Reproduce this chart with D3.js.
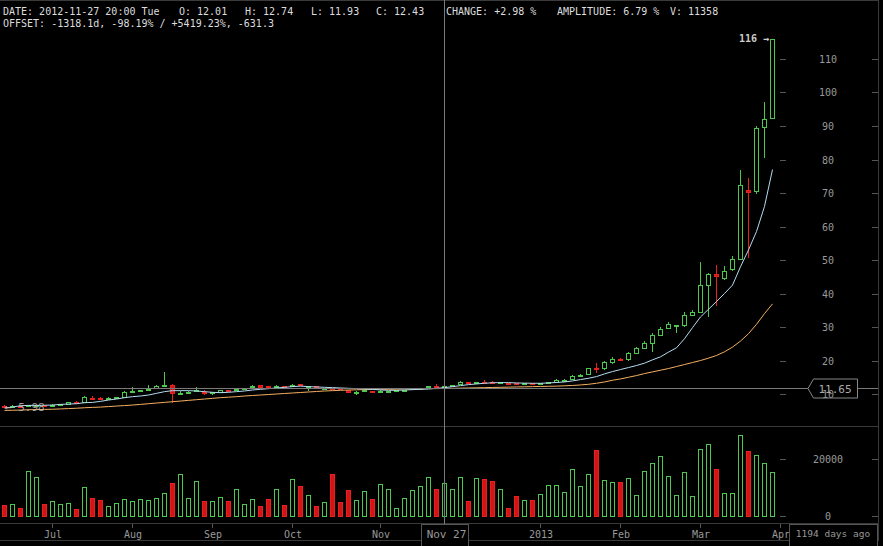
<!DOCTYPE html>
<html><head><meta charset="utf-8">
<script src="https://cdn.jsdelivr.net/npm/d3@7"></script>
<style>html,body{margin:0;padding:0;background:#000;overflow:hidden}</style>
</head><body><svg id="c" width="883" height="546"></svg>
<script>
// ---------- data (3-day candles, first candle 2012-06-15) ----------
const startDate = "2012-06-15";
const stepDays = 3;
const open = [6.5,6.4,6.5,6.5,6.6,6.7,6.6,6.8,7.1,7.7,
 7.7,8.95,8.8,8.85,8.95,9.2,10.85,11.05,11.45,11.7,
 12.55,12.7,10.25,10.45,10.95,10.55,10.4,10.7,11.15,11.35,
 11.6,12.0,12.7,12.4,12.25,12.25,12.6,12.9,12.15,12.25,
 11.6,11.65,11.75,11.2,10.35,11.05,10.95,10.7,10.65,11.05,
 10.9,11.55,11.6,12.0,12.45,12.01,12.55,12.9,13.55,13.45,
 13.55,13.5,13.45,13.25,13.3,13.2,13.3,13.2,13.35,13.7,
 13.95,14.4,15.6,16.0,17.7,17.7,19.5,20.4,20.4,22.1,
 23.6,25.3,27.6,29.6,30.55,30.6,33.6,34.6,42.6,45.7,
 44.5,47.2,50.2,70.9,70.6,89.6,92.3];
const close = [6.4,6.45,6.45,6.6,6.7,6.6,6.8,6.9,7.6,7.5,
 9.1,8.85,8.7,8.9,9.05,10.5,10.95,11.15,11.55,12.3,
 12.65,10.4,10.35,10.55,11.05,10.45,10.45,11.1,11.05,11.45,
 11.7,12.5,12.2,12.0,12.35,12.15,12.7,12.7,12.25,12.15,
 11.7,11.55,11.65,10.7,10.45,11.15,10.85,11.0,10.75,11.15,
 11.2,11.65,11.7,12.4,12.35,12.43,12.65,13.6,13.45,13.55,
 13.45,13.4,13.55,13.15,13.2,13.3,13.2,13.3,13.45,14.2,
 14.05,15.4,15.75,17.7,17.5,19.5,20.5,20.3,22.1,23.6,
 25.3,27.6,29.4,30.9,30.65,33.6,34.6,42.5,45.9,45.1,
 46.8,50.2,72.3,70.4,89.3,92.0,115.9];
const high = [6.6,6.6,6.6,6.7,6.8,6.8,6.9,7.0,7.7,7.8,
 9.3,9.3,9.0,9.0,9.2,10.8,12.0,11.3,12.7,12.6,
 16.6,13.0,11.0,10.8,12.0,11.2,10.5,11.2,11.3,11.6,
 11.9,12.8,12.8,12.5,12.7,12.4,13.0,13.0,12.3,12.3,
 11.9,11.9,11.8,11.3,10.8,11.4,11.0,11.1,10.9,11.3,
 11.3,11.8,11.8,12.5,12.9,12.74,12.8,13.9,13.7,13.7,
 14.2,13.8,13.7,13.4,13.35,13.35,13.35,13.35,13.6,14.4,
 14.5,15.6,15.9,17.9,19.2,19.95,21.0,20.6,22.6,23.9,
 25.9,28.1,29.9,31.6,30.7,34.4,35.0,49.3,46.2,48.5,
 48.1,51.2,76.9,74.5,90.0,97.1,116.0];
const low = [5.98,6.3,6.3,6.4,6.5,6.5,6.5,6.7,7.0,7.4,
 7.6,8.6,8.6,8.7,8.8,8.9,10.2,10.9,10.9,11.5,
 12.0,7.4,9.7,10.2,10.5,9.7,9.8,10.6,10.9,11.2,
 11.5,11.9,12.1,11.9,12.1,12.0,12.4,12.6,10.9,12.1,
 11.2,11.4,11.5,10.6,9.8,10.6,10.7,10.6,10.4,11.0,
 10.8,11.4,11.5,11.9,12.0,11.93,12.4,12.8,13.3,13.3,
 13.0,13.2,13.3,13.0,13.15,13.15,13.15,13.15,13.2,13.6,
 13.6,14.3,15.4,15.9,16.4,17.2,19.1,20.0,20.0,21.9,
 23.3,22.6,27.3,29.3,28.1,30.1,33.3,34.3,33.1,36.2,
 44.0,46.8,49.9,50.5,69.6,80.3,92.0];
const volume = [3840,4190,2790,15700,13600,4190,5240,4190,4540,2440,
 10120,6280,5580,3490,4540,5930,5240,5930,5580,6280,
 8030,11520,14660,6280,12220,5240,5240,6630,5240,9420,
 4190,5930,3490,5930,9420,3840,12910,10470,7330,3490,
 4890,14660,4890,9070,5580,8720,5930,11170,9420,2790,
 6280,9070,10470,13610,9420,11358,9420,13610,5240,13260,
 12910,12220,9420,2790,6980,5580,5580,7680,10820,10820,
 8380,16400,10470,14660,23030,12570,11870,11870,13260,7330,
 15700,18500,20940,13960,7330,15360,6980,23380,25130,16400,
 8030,8030,28270,22680,21280,18500,15360];
const maFast = [5.8,6.1,6.5,6.6,6.6,6.65,6.7,6.9,7.0,7.1,
 7.4,7.5,7.8,8.2,8.5,8.9,9.2,9.4,9.7,10.2,
 10.7,11.0,11.0,11.0,10.9,10.7,10.5,10.4,10.5,10.7,
 10.9,11.2,11.4,11.6,11.8,12.0,12.2,12.35,12.2,12.1,
 12.0,11.9,11.8,11.7,11.6,11.5,11.4,11.2,11.1,11.1,
 11.2,11.3,11.4,11.5,11.7,11.9,12.2,12.5,12.8,13.0,
 13.2,13.35,13.4,13.4,13.3,13.25,13.2,13.2,13.3,13.45,
 13.6,13.9,14.3,14.7,15.2,16.0,16.7,17.3,17.9,18.5,
 19.2,20.2,21.1,22.5,23.8,26.5,29.8,33.0,35.3,37.6,
 40.0,42.5,48.0,53.0,58.5,66.0,77.0];
const maSlow = [5.1,5.15,5.2,5.3,5.35,5.4,5.45,5.55,5.65,5.75,
 5.9,6.0,6.1,6.25,6.4,6.55,6.7,6.9,7.1,7.3,
 7.5,7.7,7.9,8.1,8.3,8.5,8.7,8.9,9.05,9.2,
 9.4,9.55,9.7,9.85,10.0,10.15,10.3,10.45,10.6,10.75,
 10.9,11.0,11.1,11.2,11.25,11.3,11.35,11.4,11.4,11.45,
 11.5,11.5,11.55,11.6,11.6,11.65,11.7,11.75,11.8,11.85,
 11.9,11.95,12.0,12.05,12.1,12.15,12.2,12.25,12.3,12.35,
 12.45,12.55,12.7,12.9,13.2,13.6,14.1,14.5,15.0,15.5,
 16.1,16.6,17.1,17.6,18.2,18.8,19.4,20.0,20.7,21.5,
 22.6,24.0,25.8,28.0,30.8,34.0,36.9];
const monthLabels = ["Jul","Aug","Sep","Oct","Nov","2013","Feb","Mar","Apr"];
const monthStarts = ["2012-07-01","2012-08-01","2012-09-01","2012-10-01","2012-11-01","2013-01-01","2013-02-01","2013-03-01","2013-04-01"];
const priceTicks = [10,20,30,40,50,60,70,80,90,100,110];
const volTicks = [0,20000];
const crossIndex = 55;
const crossPrice = 11.65;
const crossLabel = "Nov 27";
const agoLabel = "1194 days ago";
const headerLine1 = [["DATE: 2012-11-27 20:00 Tue",3],["O: 12.01",179],["H: 12.74",245],["L: 11.93",311],["C: 12.43",376],["CHANGE: +2.98 %",446],["AMPLITUDE: 6.79 %",557],["V: 11358",670]];
const headerLine2 = [["OFFSET: -1318.1d, -98.19% / +5419.23%, -631.3",3]];

// ---------- chart ----------
const svg = d3.select("#c");
const MONO = "'DejaVu Sans Mono', monospace";
const GREEN = "#4cc84c", RED = "#d41414", REDS = "#e82020";
svg.append("rect").attr("width",883).attr("height",546).attr("fill","#000");

const parse = d3.utcParse("%Y-%m-%d");
const d0 = parse(startDate);
const dates = open.map((_, i) => d3.utcDay.offset(d0, stepDays * i));
const n = dates.length;
const x = d3.scaleUtc().domain([dates[0], dates[n-1]]).range([4, 772]);
const y = d3.scaleLinear().domain([0, 120]).range([427.5, 25.5]);
const yv = d3.scaleLinear().domain([0, 20000]).range([516, 458.7]);
const cx = i => Math.round(x(dates[i]));

const RIGHT = 878;
const grid = svg.append("g").attr("stroke","#3a3a3a").attr("shape-rendering","crispEdges");
grid.append("line").attr("x1",0).attr("x2",RIGHT).attr("y1",0.5).attr("y2",0.5);
grid.append("line").attr("x1",0).attr("x2",RIGHT).attr("y1",426.5).attr("y2",426.5);
grid.append("line").attr("x1",0).attr("x2",RIGHT).attr("y1",523.5).attr("y2",523.5);
grid.append("line").attr("x1",0).attr("x2",RIGHT).attr("y1",540.5).attr("y2",540.5);
grid.append("line").attr("x1",RIGHT+0.5).attr("x2",RIGHT+0.5).attr("y1",0).attr("y2",541);

// candles
const cg = svg.append("g").attr("shape-rendering","crispEdges");
d3.range(n).forEach(i => {
  const up = close[i] >= open[i];
  const c = cx(i);
  const col = up ? GREEN : REDS;
  cg.append("line").attr("x1",c+0.5).attr("x2",c+0.5).attr("y1",y(high[i])).attr("y2",y(low[i])).attr("stroke",col);
  const top = Math.round(y(Math.max(open[i],close[i])));
  const bot = Math.round(y(Math.min(open[i],close[i])));
  const h = Math.max(1, bot - top);
  cg.append("rect").attr("x",c-1.5).attr("y",top+0.5).attr("width",4).attr("height",h)
    .attr("fill", up ? "#000" : RED).attr("stroke", col);
});

// moving averages (drawn over candles)
const line = d3.line().x((d, i) => cx(i) + 0.5).y(d => y(d));
svg.append("path").datum(maSlow).attr("d", line).attr("fill","none").attr("stroke","#f5b060").attr("stroke-width",1);
svg.append("path").datum(maFast).attr("d", line).attr("fill","none").attr("stroke","#b4dcf2").attr("stroke-width",1);

// volume bars
const vg = svg.append("g").attr("shape-rendering","crispEdges");
d3.range(n).forEach(i => {
  const up = close[i] >= open[i];
  const c = cx(i);
  const top = Math.round(yv(volume[i]));
  vg.append("rect").attr("x",c-1.5).attr("y",top+0.5).attr("width",4).attr("height",516-top)
    .attr("fill", up ? "#000" : RED).attr("stroke", up ? GREEN : REDS);
});

// right price axis
const ax = svg.append("g").attr("font-family",MONO).attr("font-size",10);
priceTicks.forEach(t => {
  const yy = Math.round(y(t)) + 0.5;
  ax.append("line").attr("x1",780).attr("x2",786).attr("y1",yy).attr("y2",yy).attr("stroke","#555");
  ax.append("line").attr("x1",872).attr("x2",RIGHT).attr("y1",yy).attr("y2",yy).attr("stroke","#555");
  ax.append("text").attr("x",828).attr("y",yy+3.5).attr("text-anchor","middle").attr("fill","#999").text(t);
});
volTicks.forEach(t => {
  const yy = Math.round(yv(t)) + 0.5;
  ax.append("line").attr("x1",780).attr("x2",786).attr("y1",yy).attr("y2",yy).attr("stroke","#555");
  ax.append("line").attr("x1",872).attr("x2",RIGHT).attr("y1",yy).attr("y2",yy).attr("stroke","#555");
  ax.append("text").attr("x",828).attr("y",yy+3.5).attr("text-anchor","middle").attr("fill","#999").text(t);
});

// bottom month axis (ticks snapped to candle starts)
monthStarts.forEach((m, k) => {
  const ms = parse(m);
  const idx = Math.ceil(d3.utcDay.count(d0, ms) / stepDays);
  const px = Math.round(x(d3.utcDay.offset(d0, idx * stepDays)));
  ax.append("line").attr("x1",px+0.5).attr("x2",px+0.5).attr("y1",524).attr("y2",528).attr("stroke","#555");
  ax.append("text").attr("x",px+1).attr("y",538).attr("text-anchor","middle").attr("fill","#999").text(monthLabels[k]);
});

// crosshair
const xc = cx(crossIndex) + 0.5;
const yc = Math.round(y(crossPrice)) + 0.5;
svg.append("line").attr("x1",0).attr("x2",808).attr("y1",yc).attr("y2",yc).attr("stroke","#7a7a7a").attr("shape-rendering","crispEdges");
svg.append("line").attr("x1",xc).attr("x2",xc).attr("y1",0).attr("y2",546).attr("stroke","#7a7a7a").attr("shape-rendering","crispEdges");
svg.append("line").attr("x1",857).attr("x2",RIGHT).attr("y1",yc).attr("y2",yc).attr("stroke","#7a7a7a").attr("shape-rendering","crispEdges");
svg.append("path").attr("d",`M808,${yc} L813.5,${yc-9.5} H857.5 V${yc+9.5} H813.5 Z`).attr("fill","none").attr("stroke","#888");
svg.append("text").attr("x",835).attr("y",yc+4).attr("text-anchor","middle").attr("font-family",MONO).attr("font-size",11).attr("fill","#aaa").text(crossPrice.toFixed(2));
svg.append("rect").attr("x",xc-23).attr("y",524.5).attr("width",47).attr("height",22).attr("fill","#000").attr("stroke","#555");
svg.append("text").attr("x",xc+2).attr("y",538).attr("text-anchor","middle").attr("font-family",MONO).attr("font-size",11).attr("fill","#999").text(crossLabel);
svg.append("rect").attr("x",789.5).attr("y",524.5).attr("width",88).attr("height",22).attr("fill","#000").attr("stroke","#555");
svg.append("text").attr("x",833).attr("y",537).attr("text-anchor","middle").attr("font-family",MONO).attr("font-size",9.5).attr("fill","#999").text(agoLabel);

// max / min markers
const iMax = d3.maxIndex(high), iMin = d3.minIndex(low);
svg.append("text").attr("x",cx(iMax)-3).attr("y",y(high[iMax])+3.5).attr("text-anchor","end")
  .attr("font-family",MONO).attr("font-size",10).attr("font-weight","bold").attr("fill","#ccc").text(Math.round(high[iMax]) + " \u2192");
svg.append("text").attr("x",5).attr("y",y(low[iMin])+3.5)
  .attr("font-family",MONO).attr("font-size",11).attr("fill","#bbb").attr("fill-opacity",0.85).text("\u2190 " + low[iMin].toFixed(2));

// header
const hg = svg.append("g").attr("font-family",MONO).attr("font-size",10).attr("fill","#ddd");
headerLine1.forEach(([t, px]) => hg.append("text").attr("x",px).attr("y",15).attr("xml:space","preserve").text(t));
headerLine2.forEach(([t, px]) => hg.append("text").attr("x",px).attr("y",27).text(t));
</script></body></html>
